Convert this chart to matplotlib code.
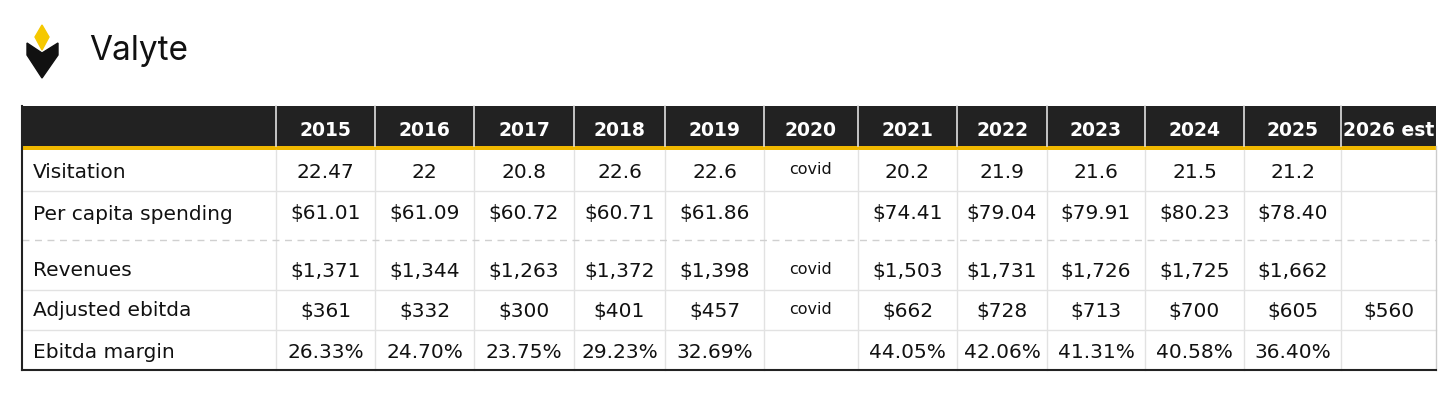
import matplotlib.pyplot as plt
from matplotlib.patches import Polygon, Rectangle

plt.rcParams["font.family"] = ["DejaVu Sans"]

years = ["2015", "2016", "2017", "2018", "2019", "2020", "2021", "2022", "2023", "2024", "2025", "2026 est"]
row_labels = ["Visitation", "Per capita spending", "Revenues", "Adjusted ebitda", "Ebitda margin"]
visitation = ["22.47", "22", "20.8", "22.6", "22.6", "covid", "20.2", "21.9", "21.6", "21.5", "21.2", ""]
per_capita = ["$61.01", "$61.09", "$60.72", "$60.71", "$61.86", "", "$74.41", "$79.04", "$79.91", "$80.23", "$78.40", ""]
revenues = ["$1,371", "$1,344", "$1,263", "$1,372", "$1,398", "covid", "$1,503", "$1,731", "$1,726", "$1,725", "$1,662", ""]
ebitda = ["$361", "$332", "$300", "$401", "$457", "covid", "$662", "$728", "$713", "$700", "$605", "$560"]
margin = ["26.33%", "24.70%", "23.75%", "29.23%", "32.69%", "", "44.05%", "42.06%", "41.31%", "40.58%", "36.40%", ""]
rows = [visitation, per_capita, revenues, ebitda, margin]

# layout in pixels
col_edges = [22, 276, 375, 474, 574, 665, 764, 858, 957, 1047, 1145, 1244, 1341, 1436]
row_edges = [150, 191, 240, 290, 330, 370]
head_top, head_bot = 106, 146

fig = plt.figure(figsize=(14.56, 4.18), dpi=100)
ax = fig.add_axes([0, 0, 1, 1])
ax.set_xlim(0, 1456)
ax.set_ylim(418, 0)
ax.axis("off")

# logo
ax.add_patch(Polygon([(42, 25), (49, 37), (42, 50), (35, 37)], closed=True, color="#f5c800"))
ax.add_patch(Polygon([(27, 43), (42, 53), (58, 43), (58, 55), (42, 78), (27, 55)], closed=True, color="#111111"))
ax.text(89, 51, "Valyte", fontsize=24, va="center", ha="left", color="#111111", family="Inter")

# header
ax.add_patch(Rectangle((col_edges[0], head_top), col_edges[-1] - col_edges[0], head_bot - head_top,
                       color="#222222", lw=0))
ax.add_patch(Rectangle((col_edges[0], head_bot), col_edges[-1] - col_edges[0], 4, color="#f0b800", lw=0))
for x in col_edges[1:-1]:
    ax.plot([x, x], [head_top, head_bot], color="#e0e0e0", lw=1.2)
for i, y in enumerate(years):
    cx = (col_edges[i + 1] + col_edges[i + 2]) / 2
    ax.text(cx, 131, y, ha="center", va="center", fontsize=13.5, fontweight="bold", color="white")

# grid lines
for x in col_edges[1:-1]:
    ax.plot([x, x], [row_edges[0], row_edges[-1]], color="#e2e2e2", lw=1)
for j, y in enumerate(row_edges[1:-1]):
    if j == 1:
        ax.plot([col_edges[0], col_edges[-1]], [y, y], color="#d0d0d0", lw=1, ls=(0, (5, 4)))
    else:
        ax.plot([col_edges[0], col_edges[-1]], [y, y], color="#e2e2e2", lw=1)
ax.plot([col_edges[0], col_edges[0]], [head_top, row_edges[-1]], color="#222222", lw=1.5)
ax.plot([col_edges[-1], col_edges[-1]], [head_bot, row_edges[-1]], color="#cccccc", lw=1)
ax.plot([col_edges[0], col_edges[-1]], [row_edges[-1], row_edges[-1]], color="#222222", lw=1.5)

# body text
text_y = [172, 214, 271, 311, 352]
for r, (label, vals) in enumerate(zip(row_labels, rows)):
    ax.text(33, text_y[r], label, ha="left", va="center", fontsize=14.5, color="#111111")
    for i, v in enumerate(vals):
        cx = (col_edges[i + 1] + col_edges[i + 2]) / 2
        if v == "covid":
            ax.text(cx, text_y[r] - 2, v, ha="center", va="center", fontsize=11.5, color="#111111")
        else:
            ax.text(cx, text_y[r], v, ha="center", va="center", fontsize=14.5, color="#111111")

fig.savefig("out.png", dpi=100, facecolor="white")
